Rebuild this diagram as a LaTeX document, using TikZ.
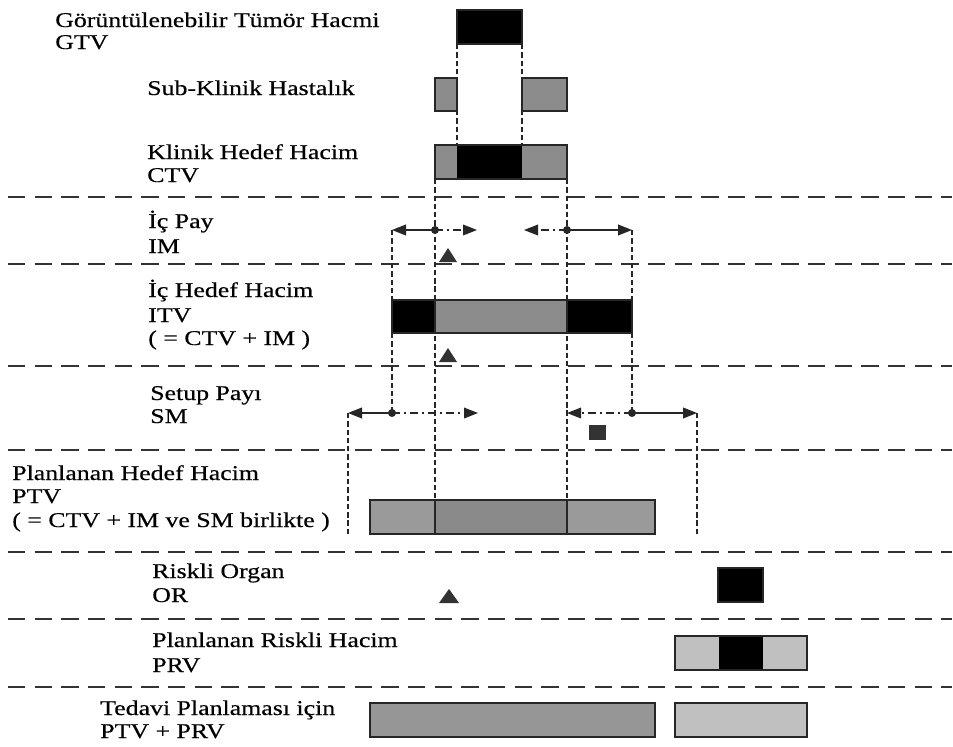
\documentclass[tikz,border=0pt]{standalone}
\usepackage{fontspec}
\setmainfont{Liberation Serif}[FakeStretch=1.23,FakeBold=0.4]
\usetikzlibrary{arrows.meta}
\definecolor{midgray}{HTML}{8C8C8C}
\definecolor{ptvgray}{HTML}{9A9A9A}
\definecolor{ptvmid}{HTML}{8A8A8A}
\definecolor{palegray}{HTML}{C0C0C0}
\definecolor{bottomgray}{HTML}{969696}
\definecolor{linegray}{HTML}{333333}
\definecolor{edgegray}{HTML}{262626}
\tikzset{
  sepline/.style={line width=2pt, draw=linegray, dash pattern=on 13pt off 7pt},
  guide/.style={line width=1.3pt, draw=edgegray, dash pattern=on 4pt off 2.2pt},
  boxline/.style={draw=edgegray, line width=1pt},
  solidarrow/.style={line width=1.4pt, draw=edgegray, -{Triangle[length=10.5pt,width=8pt]}},
  dasharrow/.style={line width=1.1pt, draw=edgegray, dash pattern=on 6pt off 3pt on 1.5pt off 3pt, -{Triangle[length=10.5pt,width=8pt]}},
  dotmark/.style={fill=edgegray},
  lbl/.style={anchor=base west, inner sep=0pt, font=\fontsize{15.75}{18}\selectfont},
  marker/.style={fill=linegray}
}
\begin{document}
\begin{tikzpicture}[x=0.75pt,y=-0.75pt]
\useasboundingbox[fill=white] (0,0) rectangle (953,746);

% separators
\foreach \yy in {197,264,366,450,552,619,687}
  \draw[sepline] (8,\yy) -- (952,\yy);

% named points
\coordinate (imL) at (435,230);
\coordinate (imR) at (567,230);
\coordinate (imLend) at (392,230);
\coordinate (imLin) at (477,230);
\coordinate (imRin) at (524,230);
\coordinate (imRend) at (632,230);
\coordinate (smL) at (392,413);
\coordinate (smR) at (632,413);
\coordinate (smLend) at (348,413);
\coordinate (smLin) at (478,413);
\coordinate (smRin) at (567,413);
\coordinate (smRend) at (697,413);

% guide lines
\draw[guide] (457,44) -- (457,145);
\draw[guide] (522,44) -- (522,145);
\draw[guide] (435,179) -- (435,500);
\draw[guide] (567,179) -- (567,500);
\draw[guide] (imLend) -- (392,300);
\draw[guide] (392,333) -- (smL);
\draw[guide] (imRend) -- (632,300);
\draw[guide] (632,333) -- (smR);
\draw[guide] (smLend) -- (348,535);
\draw[guide] (smRend) -- (697,535);

% GTV
\fill[black] (457,10) rectangle (522,44);
\draw[boxline] (457,10) rectangle (522,44);
% sub-clinical
\fill[midgray] (435,78) rectangle (457,111);
\draw[boxline] (435,78) rectangle (457,111);
\fill[midgray] (522,78) rectangle (567,111);
\draw[boxline] (522,78) rectangle (567,111);
% CTV
\fill[midgray] (435,145) rectangle (567,179);
\fill[black] (457,145) rectangle (522,179);
\draw[boxline] (435,145) rectangle (567,179);

% IM arrows
\draw[solidarrow] (imL) -- (imLend);
\draw[dasharrow] (imL) -- (imLin);
\draw[dasharrow] (imR) -- (imRin);
\draw[solidarrow] (imR) -- (imRend);
\fill[dotmark] (imL) circle (3pt);
\fill[dotmark] (imR) circle (3pt);
\fill[marker] (439,262) -- (457,262) -- (448,248) -- cycle;

% ITV
\fill[black] (392,300) rectangle (435,333);
\fill[midgray] (435,300) rectangle (567,333);
\fill[black] (567,300) rectangle (632,333);
\draw[boxline] (392,300) rectangle (632,333);
\draw[boxline] (435,300) -- (435,333) (567,300) -- (567,333);
\fill[marker] (439,362) -- (457,362) -- (448,348) -- cycle;

% SM arrows
\draw[solidarrow] (smL) -- (smLend);
\draw[dasharrow] (smL) -- (smLin);
\draw[dasharrow] (smR) -- (smRin);
\draw[solidarrow] (smR) -- (smRend);
\fill[dotmark] (smL) circle (3pt);
\fill[dotmark] (smR) circle (3pt);
\fill[linegray] (589,425) rectangle (606,440);

% PTV
\fill[ptvgray] (370,500) rectangle (435,534);
\fill[ptvmid] (435,500) rectangle (567,534);
\fill[ptvgray] (567,500) rectangle (655,534);
\draw[boxline] (370,500) rectangle (655,534);
\draw[boxline] (435,500) -- (435,534) (567,500) -- (567,534);

% OR
\fill[marker] (439,603) -- (459,603) -- (449,589) -- cycle;
\fill[black] (718,568) rectangle (763,602);
\draw[boxline] (718,568) rectangle (763,602);

% PRV
\fill[palegray] (675,636) rectangle (807,670);
\fill[black] (719,636) rectangle (763,670);
\draw[boxline] (675,636) rectangle (807,670);

% PTV + PRV
\fill[bottomgray] (370,703) rectangle (655,737);
\draw[boxline] (370,703) rectangle (655,737);
\fill[palegray] (675,703) rectangle (807,737);
\draw[boxline] (675,703) rectangle (807,737);

% labels
\node[lbl] (t1a) at (55,27) {Görüntülenebilir Tümör Hacmi};
\node[lbl] (t1b) at (55,49) {GTV};
\node[lbl] (t2a) at (147,95) {Sub-Klinik Hastalık};
\node[lbl] (t3a) at (147,159) {Klinik Hedef Hacim};
\node[lbl] (t3b) at (147,182) {CTV};
\node[lbl] (t4a) at (148,228) {İç Pay};
\node[lbl] (t4b) at (148,253) {IM};
\node[lbl] (t5a) at (148,297) {İç Hedef Hacim};
\node[lbl] (t5b) at (148,322) {ITV};
\node[lbl] (t5c) at (148,345) {( = CTV + IM )};
\node[lbl] (t6a) at (150,400) {Setup Payı};
\node[lbl] (t6b) at (150,423) {SM};
\node[lbl] (t7a) at (12,480) {Planlanan Hedef Hacim};
\node[lbl] (t7b) at (12,503) {PTV};
\node[lbl] (t7c) at (12,527) {( = CTV + IM ve SM birlikte )};
\node[lbl] (t8a) at (152,578) {Riskli Organ};
\node[lbl] (t8b) at (152,602) {OR};
\node[lbl] (t9a) at (152,647) {Planlanan Riskli Hacim};
\node[lbl] (t9b) at (152,672) {PRV};
\node[lbl] (t10a) at (100,715) {Tedavi Planlaması için};
\node[lbl] (t10b) at (100,738) {PTV + PRV};
\end{tikzpicture}
\end{document}
